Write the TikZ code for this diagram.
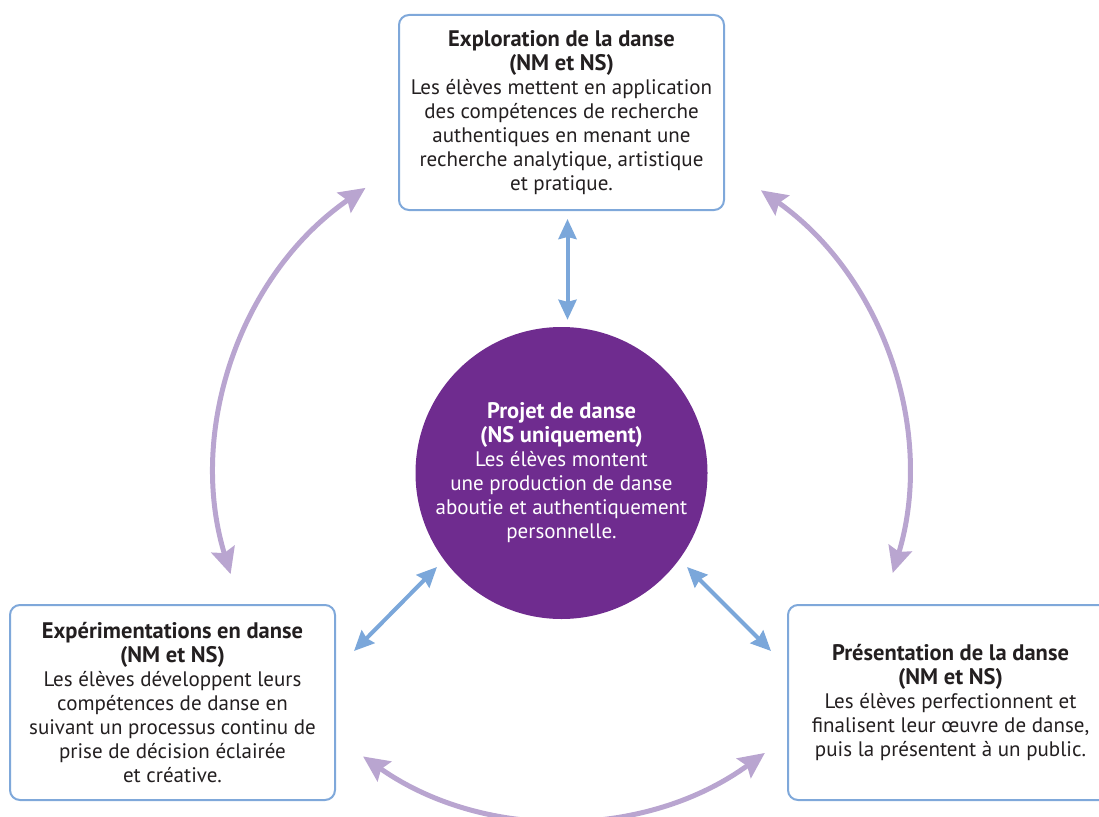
\documentclass[tikz,border=0pt]{standalone}
\usepackage{fontspec}
\setmainfont{PT Sans}
\usetikzlibrary{arrows.meta,calc}
\definecolor{boxblue}{RGB}{127,168,218}
\definecolor{hubpurple}{RGB}{111,44,143}
\definecolor{arcpurple}{RGB}{185,165,208}
\definecolor{arrblue}{RGB}{123,167,218}
\definecolor{textblack}{RGB}{35,31,32}
\newcommand{\hd}[1]{{\fontsize{22.5}{24}\selectfont\bfseries #1}}
\begin{document}
\begin{tikzpicture}[x=1pt,y=1pt,
  box/.style={draw=boxblue, line width=2pt, rounded corners=10pt, minimum width=325pt, minimum height=195pt,
    align=center, font=\fontsize{21}{24}\selectfont, text=textblack, inner sep=0pt, fill=white},
  hub/.style={circle, fill=hubpurple, minimum size=292pt, inner sep=0pt, text=white, align=center,
    font=\fontsize{21}{24}\selectfont},
  bluearr/.style={draw=arrblue, line width=4pt, arrows={Stealth[inset=2pt,length=20pt,width=18pt]-Stealth[inset=2pt,length=20pt,width=18pt]}},
  arcarr/.style={draw=arcpurple, line width=5pt, arrows={Stealth[inset=4pt,length=26pt,width=24pt]-Stealth[inset=4pt,length=26pt,width=24pt]}}
]
\useasboundingbox (0,0) rectangle (1099,-816);
\clip (0,0) rectangle (1099,-816);

\node[box] (top) at (561.5,-112.5) {\hd{Exploration de la danse}\\\hd{(NM et NS)}\\Les élèves mettent en application\\des compétences de recherche\\authentiques en menant une\\recherche analytique, artistique\\et pratique.};
\node[box] (left) at (172.5,-702.5) {\hd{Expérimentations en danse}\\\hd{(NM et NS)}\\Les élèves développent leurs\\compétences de danse en\\suivant un processus continu de\\prise de décision éclairée\\et créative.};
\node[box] (right) at (950.5,-702.5) {\hd{Présentation de la danse}\\\hd{(NM et NS)}\\Les élèves perfectionnent et\\finalisent leur œuvre de danse,\\puis la présentent à un public.};
\node[hub] (c) at (561.5,-473) {\hd{Projet de danse}\\\hd{(NS uniquement)}\\Les élèves montent\\une production de danse\\aboutie et authentiquement\\personnelle.};

% blue connectors
\draw[bluearr] ([xshift=6pt,yshift=-8pt]top.south) -- ([xshift=6pt,yshift=7pt]c.north);
\draw[bluearr] ([shift={(18,-47)}]left.north east) -- ([shift={(-124.5,-94)}]c.center);
\draw[bluearr] ([shift={(-16,-47)}]right.north west) -- ([shift={(125.5,-94)}]c.center);

% purple arcs
\draw[arcarr] ($(c.center)+(124.5:346)$) arc[start angle=124.5, end angle=197, radius=346];
\draw[arcarr] ($(c.center)+(-16.8:346)$) arc[start angle=-16.8, end angle=54.8, radius=346];
\draw[arcarr] ($(c.center)+(235:346)$) arc[start angle=235, end angle=306, radius=346];
\end{tikzpicture}
\end{document}
